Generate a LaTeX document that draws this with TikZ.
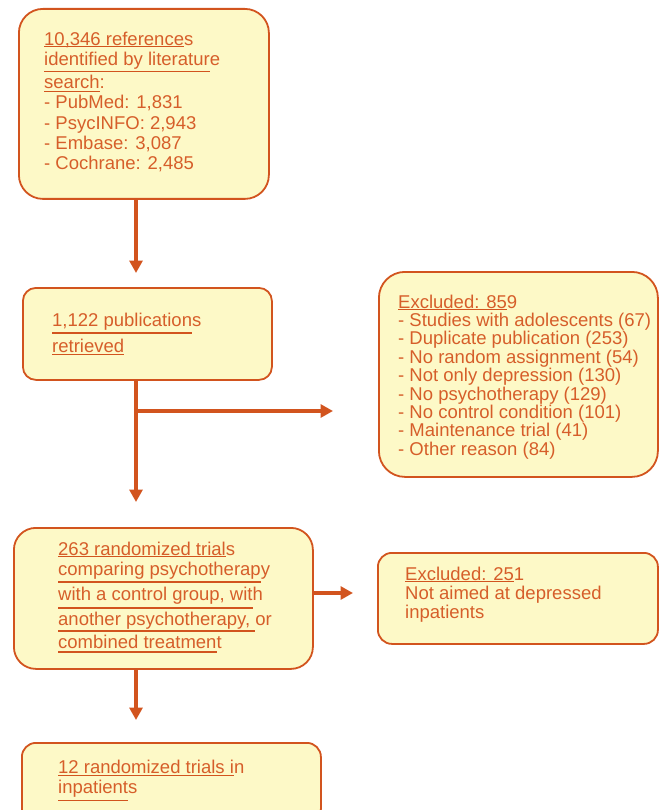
\documentclass[tikz,border=0pt]{standalone}
\usepackage{fontspec}
\setmainfont{Liberation Sans}
\usepackage{xcolor}
\definecolor{boxfill}{RGB}{253,249,199}
\definecolor{flowline}{RGB}{210,84,30}
\definecolor{flowtext}{RGB}{214,94,42}
\usetikzlibrary{arrows.meta, calc, positioning}
% underline that sits a given depth below the baseline
\newsavebox{\ulbox}
\newcommand{\ulin}[2][2.8pt]{\sbox{\ulbox}{#2}\rlap{\raisebox{-#1}[0pt][0pt]{\color{flowline}\rule{\wd\ulbox}{1.3pt}}}\usebox{\ulbox}}

\begin{document}
\begin{tikzpicture}[x=1pt, y=-1pt,
    flowbox/.style={draw=flowline, fill=boxfill, line width=1.8pt, rounded corners=#1, inner sep=0pt, anchor=north west},
    flowbox/.default=20pt,
    boxtext/.style={text=flowtext, align=left, inner sep=0pt, font=\fontsize{18.5pt}{#1}\selectfont},
    boxtext/.default=20.3pt,
    flowarrow/.style={draw=flowline, line width=3.8pt, -{Triangle[width=13pt, length=12.5pt]}}]
    \path[use as bounding box, clip] (0,0) rectangle (662,810);

    % boxes
    \node[flowbox=24pt, minimum width=250pt, minimum height=190pt] (search) at (18,8) {};
    \node[flowbox=13pt, minimum width=249pt, minimum height=92pt] (pubs) at (22,287) {};
    \node[flowbox=26pt, minimum width=279pt, minimum height=205pt] (excl) at (378,271) {};
    \node[flowbox=22pt, minimum width=299pt, minimum height=141pt] (rct) at (13,527) {};
    \node[flowbox=14pt, minimum width=280pt, minimum height=91pt] (inpt) at (377,552) {};
    \node[flowbox=14pt, minimum width=299pt, minimum height=80pt] (final) at (21,742) {};

    % texts
    \node[boxtext, below right=23.5pt and 26pt of search.north west] (searchtext) {%
        \ulin[1.8pt]{10,346 reference}s\\
        \ulin[6.5pt]{identified by literatur}e\\[3pt]
        \ulin[3.2pt]{search}:\\
        - PubMed: 1,831\\
        - PsycINFO: 2,943\\
        - Embase: 3,087\\
        - Cochrane: 2,485};
    \node[boxtext, below right=25.5pt and 30pt of pubs.north west] (pubstext) {%
        \ulin[7.5pt]{1,122 publication}s\\[5.7pt]
        \ulin[2.8pt]{retrieved}};
    \node[boxtext=18.4pt, below right=23.5pt and 20pt of excl.north west] (excltext) {%
        \ulin[2pt]{Excluded: 85}9\\
        - Studies with adolescents (67)\\
        - Duplicate publication (253)\\
        - No random assignment (54)\\
        - Not only depression (130)\\
        - No psychotherapy (129)\\
        - No control condition (101)\\
        - Maintenance trial (41)\\
        - Other reason (84)};
    \node[boxtext, below right=14.5pt and 45pt of rct.north west] (rcttext) {%
        \ulin[1.8pt]{263 randomized trial}s\\
        \ulin[7.3pt]{comparing psychotherap}y\\[4.7pt]
        \ulin[8.3pt]{with a control group, wit}h\\[4.7pt]
        \ulin[6.3pt]{another psychotherapy, }or\\[2.7pt]
        \ulin[4.3pt]{combined treatmen}t};
    \node[boxtext=19pt, below right=14.5pt and 28pt of inpt.north west] (inpttext) {%
        \ulin[2pt]{Excluded: 25}1\\
        Not aimed at depressed\\
        inpatients};
    \node[boxtext=20pt, below right=17.5pt and 37pt of final.north west] (finaltext) {%
        \ulin[3.3pt]{12 randomized trials i}n\\
        \ulin[8.3pt]{inpatient}s};

    % connectors
    \coordinate (trunk) at (136,0);
    \coordinate (tipA) at (136,273);
    \coordinate (tipB) at (136,502);
    \coordinate (branch) at (136,411);
    \coordinate (tipC) at (333,411);
    \coordinate (tipD) at (353,593);
    \coordinate (tipE) at (136,720);
    \draw[flowarrow] (search.south -| trunk) -- (tipA);
    \draw[flowarrow] (pubs.south -| trunk) -- (tipB);
    \draw[flowarrow] (branch) -- (tipC);
    \draw[flowarrow] (rct.east |- tipD) -- (tipD);
    \draw[flowarrow] (rct.south -| trunk) -- (tipE);
\end{tikzpicture}
\end{document}
